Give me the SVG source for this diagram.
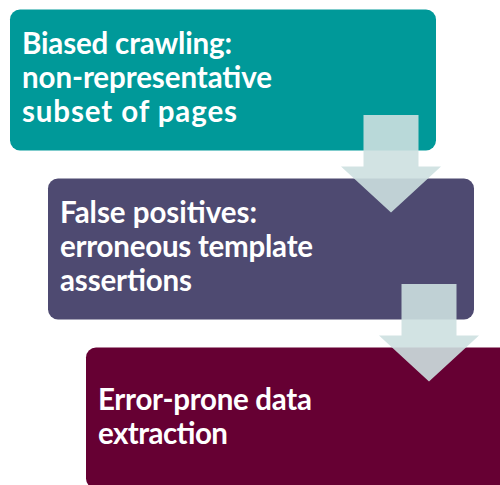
<svg xmlns="http://www.w3.org/2000/svg" width="500" height="485" viewBox="0 0 500 485">
  <style>
    .box { stroke: none; }
    .label { font-family: "Lato", "Liberation Sans", sans-serif; font-weight: bold; font-size: 29.5px; fill: #ffffff; }
    .step { fill: #cde0e0; fill-opacity: 0.9; stroke: none; }
  </style>
  <rect width="500" height="485" fill="#ffffff"/>

  <g id="node-biased-crawling">
    <rect class="box" x="10" y="9.5" width="426" height="141" rx="10" fill="#009999"/>
    <text class="label" x="22" y="53.5" textLength="210">Biased crawling:</text>
    <text class="label" x="22" y="88" textLength="250">non-representative</text>
    <text class="label" x="22" y="122" textLength="215">subset of pages</text>
  </g>

  <g id="node-false-positives">
    <rect class="box" x="48" y="178.5" width="426" height="141" rx="10" fill="#4e4a71"/>
    <text class="label" x="60" y="222.5" textLength="197">False positives:</text>
    <text class="label" x="60" y="257" textLength="253">erroneous template</text>
    <text class="label" x="60" y="291" textLength="132">assertions</text>
  </g>

  <g id="node-error-prone">
    <rect class="box" x="86" y="347.5" width="426" height="141" rx="10" fill="#660033"/>
    <text class="label" x="98" y="410" textLength="214">Error-prone data</text>
    <text class="label" x="98" y="444" textLength="130">extraction</text>
  </g>

  <g id="connectors">
    <polygon class="step" points="363.5,115 418.5,115 418.5,166.5 441,166.5 391,212.5 341,166.5 363.5,166.5"/>
    <polygon class="step" points="401.5,284 456.5,284 456.5,335.5 479,335.5 429,381.5 379,335.5 401.5,335.5"/>
  </g>
</svg>
